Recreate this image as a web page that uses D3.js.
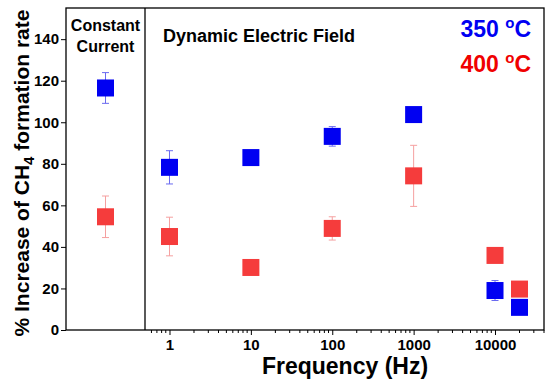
<!DOCTYPE html>
<html>
<head>
<meta charset="utf-8">
<script src="https://cdn.jsdelivr.net/npm/d3@7"></script>
<style>
  body { margin: 0; background: #fff; }
  svg { display: block; font-family: "Liberation Sans", Arial, sans-serif; }
</style>
</head>
<body>
<svg id="chart" width="550" height="387"></svg>
<script>
// data
const freqs = [1, 10, 100, 1000, 10000, 20000];
const blue350 = [78.3, 83.0, 93.2, 103.7, 19.0, 10.9];
const blue350Err = [8.0, 1.5, 4.7, 1.5, 4.8, 1.0];
const red400 = [45.0, 30.1, 48.9, 74.2, 35.9, 19.7];
const red400Err = [9.3, 1.0, 5.6, 14.7, 1.0, 1.0];
const constCat = ['Constant Current'];
const const350 = [116.5], const350Err = [7.4];
const const400 = [54.5], const400Err = [10.0];
const yTicks = [0, 20, 40, 60, 80, 100, 120, 140];
const xTicks = [1, 10, 100, 1000, 10000];

const width = 550, height = 387;
const margin = {top: 8, right: 6, bottom: 57, left: 66};
const divX = 145;

const blue = '#0000f2', red = '#f53c3c';
const blueBar = '#6b6bf0', redBar = '#f5a0a0';
const msize = 17;

let svg = d3.select('#chart');

let y = d3.scaleLinear().domain([0, 155]).range([height - margin.bottom, margin.top]);
let xc = d3.scalePoint().domain(constCat).range([margin.left, divX]).padding(0.5);
let x = d3.scaleLog().domain([0.5, 40000]).range([divX, width - margin.right]);

// y axis
let yAxis = svg.append('g')
  .attr('transform', `translate(${margin.left},0)`)
  .call(d3.axisLeft(y).tickValues(yTicks).tickSize(5).tickPadding(2));
yAxis.select('.domain').remove();
yAxis.selectAll('text').attr('font-size', 15).attr('font-weight', 'bold').attr('fill', '#000');

// x axis (log part)
let minor = [];
for (let e = -1; e <= 4; e++) {
  for (let m = 1; m <= 9; m++) {
    let v = m * Math.pow(10, e);
    if (v > 0.5 && v <= 40000 && m !== 1) minor.push(v);
  }
}
let xAxis = svg.append('g')
  .attr('transform', `translate(0,${height - margin.bottom})`)
  .call(d3.axisBottom(x).tickValues(xTicks).tickFormat(d3.format('d')).tickSize(5).tickPadding(4));
xAxis.select('.domain').remove();
xAxis.selectAll('text').attr('font-size', 15).attr('font-weight', 'bold').attr('fill', '#000');
xAxis.selectAll('.minor').data(minor).enter().append('line')
  .attr('class', 'minor')
  .attr('x1', d => x(d)).attr('x2', d => x(d))
  .attr('y1', 0).attr('y2', 3)
  .attr('stroke', '#000');

// frame and divider
svg.append('rect')
  .attr('x', margin.left).attr('y', margin.top)
  .attr('width', width - margin.right - margin.left)
  .attr('height', height - margin.bottom - margin.top)
  .attr('fill', 'none').attr('stroke', '#000').attr('stroke-width', 1.3);
svg.append('line')
  .attr('x1', divX).attr('x2', divX)
  .attr('y1', margin.top).attr('y2', height - margin.bottom)
  .attr('stroke', '#000').attr('stroke-width', 1.3);

// error bars + squares
function series(px, vals, errs, fill, barColor) {
  let g = svg.append('g');
  vals.forEach((v, i) => {
    let cx = px[i];
    let lo = y(v - errs[i]), hi = y(v + errs[i]);
    g.append('line').attr('x1', cx).attr('x2', cx).attr('y1', lo).attr('y2', hi)
      .attr('stroke', barColor).attr('stroke-width', 1);
    [lo, hi].forEach(yy => {
      g.append('line').attr('x1', cx - 3.5).attr('x2', cx + 3.5).attr('y1', yy).attr('y2', yy)
        .attr('stroke', barColor).attr('stroke-width', 1);
    });
    g.append('rect')
      .attr('x', cx - msize / 2).attr('y', y(v) - msize / 2)
      .attr('width', msize).attr('height', msize)
      .attr('fill', fill);
  });
}
series(constCat.map(c => xc(c)), const350, const350Err, blue, blueBar);
series(constCat.map(c => xc(c)), const400, const400Err, red, redBar);
series(freqs.map(f => x(f)), blue350, blue350Err, blue, blueBar);
series(freqs.map(f => x(f)), red400, red400Err, red, redBar);

// panel labels
let cc = svg.append('text').attr('text-anchor', 'middle')
  .attr('font-size', 16).attr('font-weight', 'bold');
cc.append('tspan').attr('x', xc(constCat[0])).attr('y', 31).text('Constant');
cc.append('tspan').attr('x', xc(constCat[0])).attr('y', 52).text('Current');

svg.append('text').attr('x', 163).attr('y', 42)
  .attr('font-size', 18).attr('font-weight', 'bold')
  .text('Dynamic Electric Field');

// legend text
function tempLabel(t, yy, color) {
  let tx = svg.append('text').attr('x', 531).attr('y', yy)
    .attr('text-anchor', 'end').attr('font-size', 23).attr('font-weight', 'bold')
    .attr('fill', color);
  tx.append('tspan').text(t + ' ');
  tx.append('tspan').attr('dy', -9).attr('font-size', 15).text('o');
  tx.append('tspan').attr('dy', 9).text('C');
}
tempLabel('350', 37, blue);
tempLabel('400', 72, '#f00000');

// axis titles
svg.append('text')
  .attr('x', 345).attr('y', 374)
  .attr('text-anchor', 'middle').attr('font-size', 23).attr('font-weight', 'bold')
  .text('Frequency (Hz)');

let yl = svg.append('text')
  .attr('transform', `translate(29,${(margin.top + height - margin.bottom) / 2 + 4}) rotate(-90)`)
  .attr('text-anchor', 'middle').attr('font-size', 21).attr('font-weight', 'bold');
yl.append('tspan').text('% Increase of CH');
yl.append('tspan').attr('dy', 5).attr('font-size', 15).text('4');
yl.append('tspan').attr('dy', -5).text(' formation rate');
</script>
</body>
</html>
